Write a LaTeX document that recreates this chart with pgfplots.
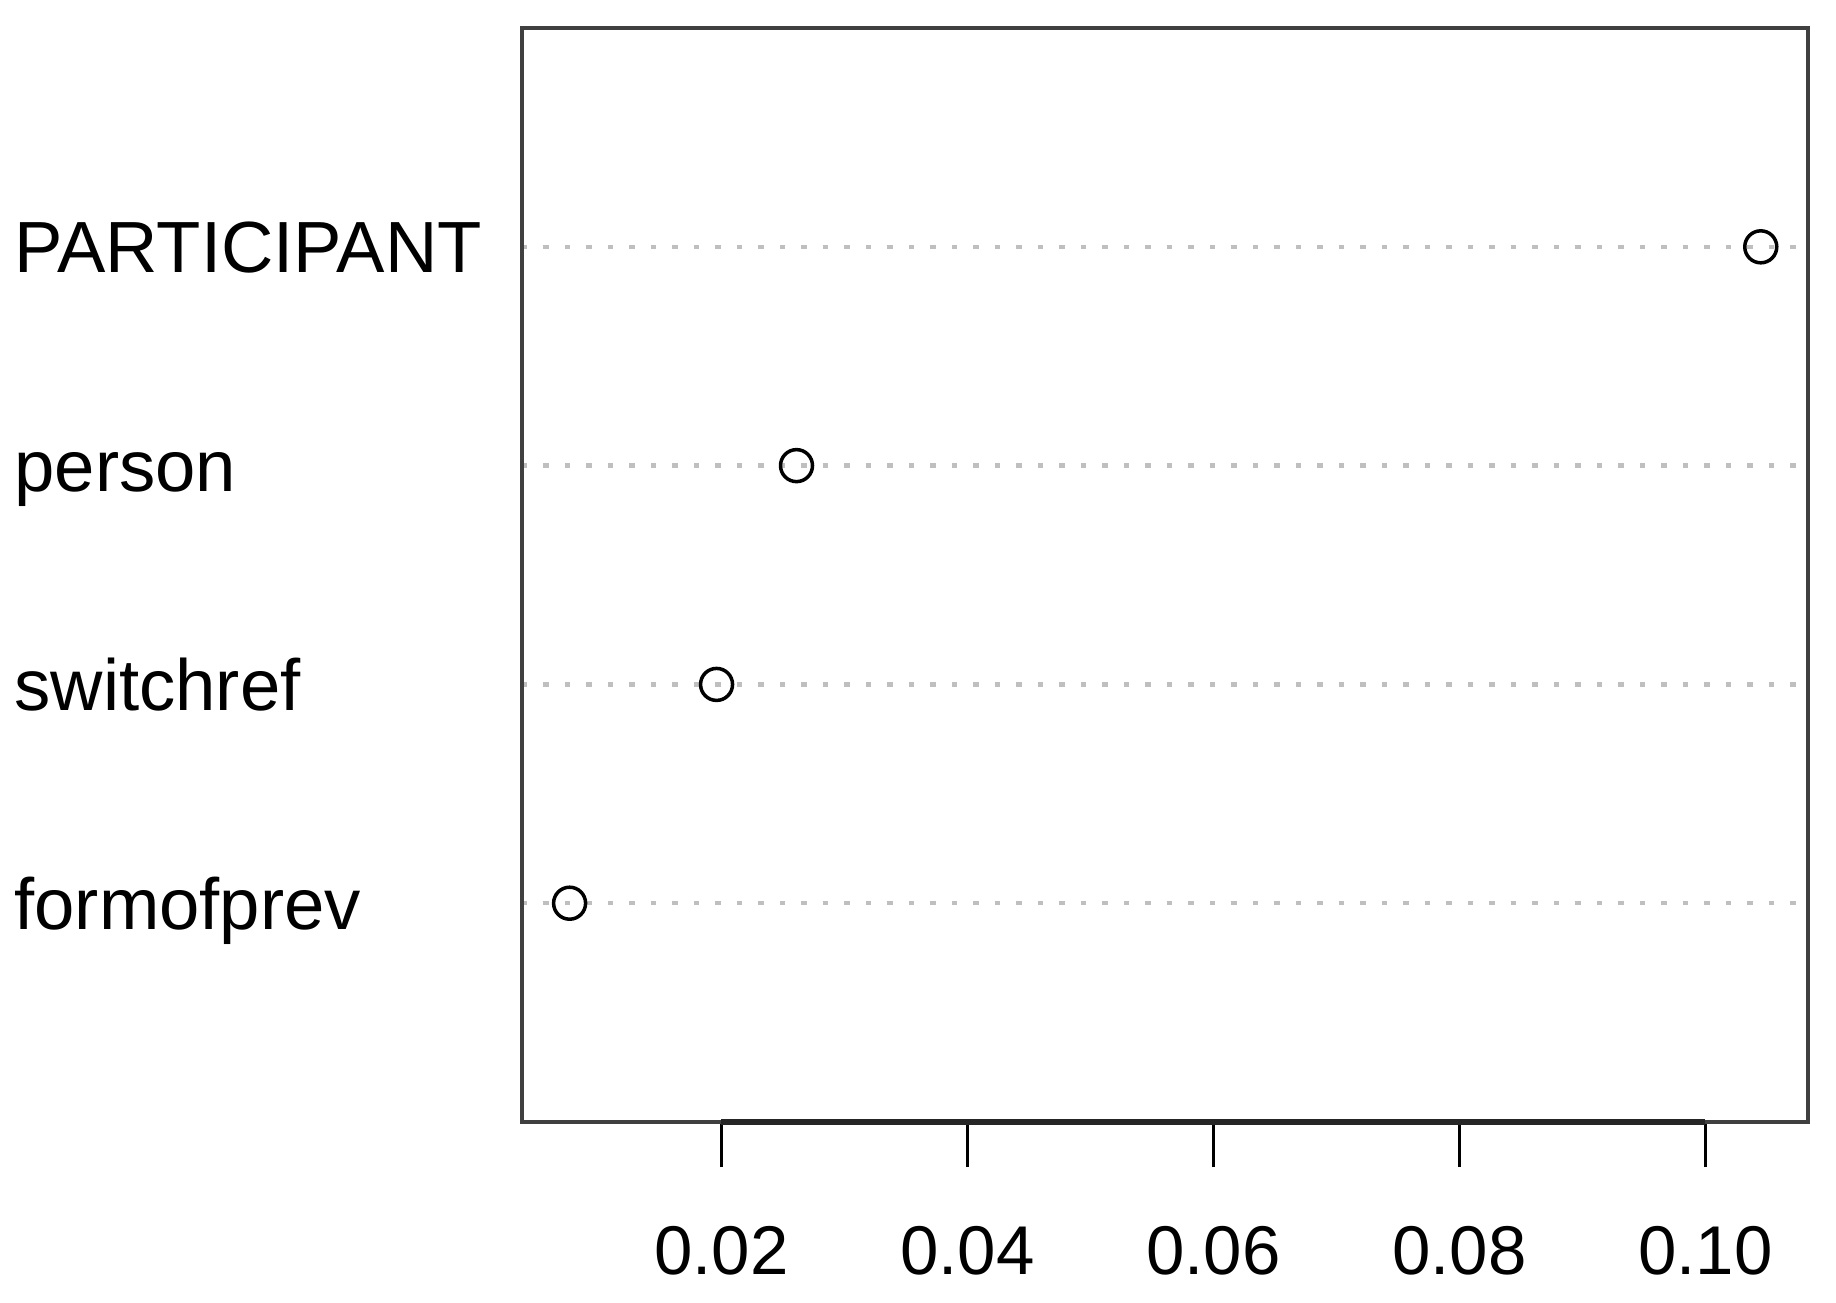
\documentclass[border=0pt]{standalone}
\usepackage{pgfplots}
\pgfplotsset{compat=1.18}
\usepackage{fontspec}
\setmainfont{Liberation Sans}
\begin{document}
\begin{tikzpicture}
\path[use as bounding box] (-104.4pt,-36pt) rectangle (262.8pt,224.4pt);
\begin{axis}[
	at={(0,0)}, anchor=south west,
	scale only axis, width=257.2pt, height=218.8pt,
	xmin=0.00378, xmax=0.10834, ymin=0, ymax=5,
	axis line style={line width=0.75pt, black!75},
	xtick={0.02,0.04,0.06,0.08,0.10},
	scaled x ticks=false,
	xticklabel style={/pgf/number format/fixed, /pgf/number format/fixed zerofill,
		/pgf/number format/precision=2, /pgf/number format/assume math mode=true,
		font=\fontsize{13.8}{15}\selectfont, anchor=base, yshift=-21.4pt},
	xtick pos=bottom, tick align=outside, major tick length=9pt,
	x tick style={black, line width=0.5pt},
	ytick={1,2,3,4},
	yticklabels={formofprev,switchref,person,PARTICIPANT},
	y tick style={draw=none},
	yticklabel style={font=\fontsize{14.5}{16}\selectfont, anchor=base west, inner sep=0pt, xshift=-92.7pt, yshift=-5.2pt},
	ymajorgrids,
	major grid style={gray!50, line width=0.9pt, dash pattern=on 1.1pt off 3.2pt},
	clip=false,
]
\addplot[only marks, mark=o, mark size=3.2pt, mark options={line width=0.7pt, fill=white, black}]
	coordinates {(0.00765,1) (0.0196,2) (0.0261,3) (0.1045,4)};
\draw[line width=1.3pt, black!85] (axis cs:0.02,0) -- (axis cs:0.10,0);
\end{axis}
\end{tikzpicture}
\end{document}
